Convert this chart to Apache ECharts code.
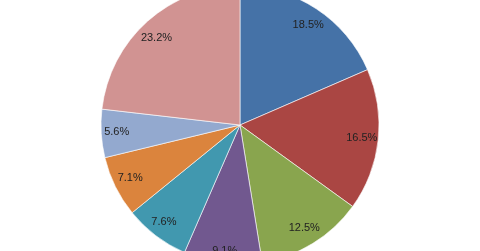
<!DOCTYPE html>
<html><head><meta charset="utf-8">
<script src="https://cdn.jsdelivr.net/npm/echarts@6/dist/echarts.min.js"></script>
<style>html,body{margin:0;padding:0;background:#fff}#c{width:480px;height:251px}</style>
</head><body><div id="c"></div>
<script>
const categories = ['A','B','C','D','E','F','G','H'];
const values = [18.5, 16.5, 12.5, 9.1, 7.6, 7.1, 5.6, 23.2];
const colors = ['#4572A7','#AA4643','#89A54E','#71588F','#4198AF','#DB843D','#93A9CF','#D19392'];
// small label nudges (style, not data)
const labelNudge = [[1,2],[0,0],[0,-1],[0,4],[-2,-1],[0,-1],[-1,-1],[-2,4]];
const data = categories.map((c,i)=>({name:c,value:values[i]}));
const labelData = categories.map((c,i)=>({name:c,value:values[i],label:{offset:labelNudge[i]}}));
const chart = echarts.init(document.getElementById('c'), null, {renderer:'canvas'});
chart.setOption({
  animation:false,
  color: colors,
  series:[
    {type:'pie', center:[240,125], radius:[0,139], startAngle:90, clockwise:true,
     data:data, label:{show:false}, labelLine:{show:false},
     itemStyle:{borderColor:'#ffffff', borderWidth:0.6}},
    {type:'pie', center:[240,125], radius:[100,139], startAngle:90, clockwise:true,
     data:labelData, silent:true,
     itemStyle:{color:'rgba(0,0,0,0)'},
     label:{show:true, position:'inside', formatter:p=>p.value.toFixed(1)+'%',
       fontFamily:'Liberation Sans, Arial, sans-serif', fontSize:11, color:'#222'},
     labelLine:{show:false}}
  ]
});
</script></body></html>
